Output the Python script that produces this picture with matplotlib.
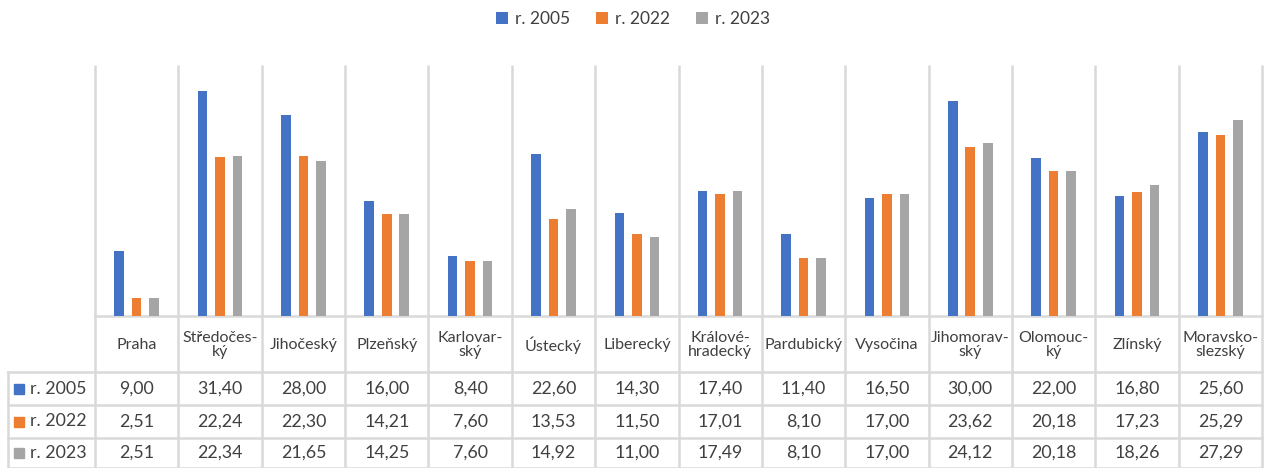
import matplotlib.pyplot as plt
import numpy as np

# data
regions = ["Praha", "Středočes-\nký", "Jihočeský", "Plzeňský", "Karlovar-\nský",
           "Ústecký", "Liberecký", "Králové-\nhradecký", "Pardubický", "Vysočina",
           "Jihomorav-\nský", "Olomouc-\nký", "Zlínský", "Moravsko-\nslezský"]
series_names = ["r. 2005", "r. 2022", "r. 2023"]
v2005 = [9.00, 31.40, 28.00, 16.00, 8.40, 22.60, 14.30, 17.40, 11.40, 16.50, 30.00, 22.00, 16.80, 25.60]
v2022 = [2.51, 22.24, 22.30, 14.21, 7.60, 13.53, 11.50, 17.01, 8.10, 17.00, 23.62, 20.18, 17.23, 25.29]
v2023 = [2.51, 22.34, 21.65, 14.25, 7.60, 14.92, 11.00, 17.49, 8.10, 17.00, 24.12, 20.18, 18.26, 27.29]
colors = ["#4472C4", "#ED7D31", "#A5A5A5"]

plt.rcParams['font.family'] = ['Lato', 'DejaVu Sans']
text_col = "#404040"
grid_col = "#D9D9D9"

W, H = 1269, 468
fig = plt.figure(figsize=(W / 100, H / 100), dpi=100)

# pixel layout
x0, x1 = 95, 1262
y_top, y_base = 65, 316
y_rows = [316, 372, 405, 438, 468]
left_x = 8

ax = fig.add_axes([x0 / W, 1 - y_base / H, (x1 - x0) / W, (y_base - y_top) / H])
n = len(regions)
x = np.arange(n)
bw = 0.115
off = 0.21
for k, vals in enumerate([v2005, v2022, v2023]):
    ax.bar(x + (k - 1) * off, vals, width=bw, color=colors[k], label=series_names[k])
ax.set_xlim(-0.5, n - 0.5)
ax.set_ylim(0, 35.0)
ax.axis('off')

# overlay in pixel coordinates for grid and table
ov = fig.add_axes([0, 0, 1, 1], zorder=-1)
ov.set_xlim(0, W)
ov.set_ylim(H, 0)
ov.axis('off')

cw = (x1 - x0) / n
edges = [x0 + i * cw for i in range(n + 1)]
for e in edges:
    ov.plot([e, e], [y_top, H], color=grid_col, lw=1.8, solid_capstyle='butt')
# horizontal lines of table
ov.plot([x0, x1], [y_rows[0], y_rows[0]], color=grid_col, lw=1.8)
for yy in y_rows[1:]:
    ov.plot([left_x, x1], [yy, yy], color=grid_col, lw=1.8)
ov.plot([left_x, left_x], [y_rows[1], H], color=grid_col, lw=1.8)

# header labels
for i, name in enumerate(regions):
    cx = (edges[i] + edges[i + 1]) / 2
    ov.text(cx, (y_rows[0] + y_rows[1]) / 2 + 1, name, ha='center', va='center',
            fontsize=11.5, color=text_col, linespacing=0.95)

# table values
for r, vals in enumerate([v2005, v2022, v2023]):
    cy = (y_rows[r + 1] + y_rows[r + 2]) / 2
    ov.add_patch(plt.Rectangle((14, cy - 5), 10, 10, color=colors[r]))
    ov.text(30, cy, series_names[r], ha='left', va='center', fontsize=12.8, color=text_col)
    for i, v in enumerate(vals):
        cx = (edges[i] + edges[i + 1]) / 2
        ov.text(cx, cy, f"{v:.2f}".replace('.', ','), ha='center', va='center',
                fontsize=12.8, color=text_col)

fig.legend(loc='center', bbox_to_anchor=(633 / W, 1 - 19 / H), ncol=3, frameon=False,
           fontsize=12.5, handlelength=0.7, handleheight=0.7, handletextpad=0.4,
           columnspacing=1.5, labelcolor=text_col)

fig.savefig("out.png", dpi=100)
